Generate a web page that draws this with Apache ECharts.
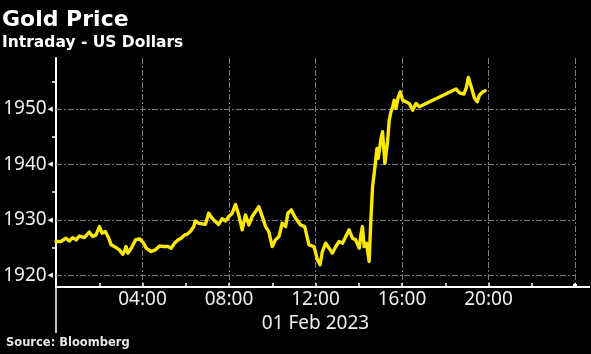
<!DOCTYPE html>
<html><head><meta charset="utf-8">
<script src="https://cdn.jsdelivr.net/npm/echarts@6/dist/echarts.min.js"></script>
<style>html,body{margin:0;padding:0;background:#000;}#c{width:591px;height:354px;}</style>
</head><body><div id="c"></div>
<script>
const titleText = 'Gold Price';
const subtitleText = 'Intraday - US Dollars';
const sourceText = 'Source: Bloomberg';
const dateLabel = '01 Feb 2023';

// hours since 00:00 on 01 Feb 2023
const hours = [0.00,0.23,0.46,0.61,0.77,0.93,1.08,1.31,1.54,1.70,1.85,2.01,2.13,2.28,2.44,2.55,2.78,2.93,3.09,3.17,3.24,3.32,3.48,3.68,3.86,4.05,4.17,4.40,4.60,4.79,4.95,5.18,5.33,5.48,5.64,5.79,5.95,
  6.06,6.21,6.37,6.44,6.60,6.91,7.06,7.22,7.37,7.52,7.68,7.84,7.99,8.15,8.30,8.45,8.61,8.76,8.92,9.07,9.23,9.38,9.54,9.69,9.84,10.00,10.15,10.31,10.46,10.62,10.72,10.88,11.08,11.31,11.50,11.70,
  11.78,11.93,12.09,12.21,12.32,12.47,12.63,12.78,12.94,13.09,13.25,13.40,13.55,13.71,13.86,14.02,14.10,14.17,14.25,14.36,14.48,14.56,14.64,14.75,14.84,14.90,15.02,15.10,15.21,15.33,15.41,15.49,15.57,15.64,15.72,15.83,15.92,16.03,16.18,16.34,16.49,16.65,16.80,16.88,
  18.50,18.66,18.86,18.97,19.07,19.20,19.35,19.48,19.58,19.74,19.85];
const prices = [1926.1,1926.1,1926.7,1926.2,1926.8,1926.4,1927.1,1926.8,1927.8,1927.0,1927.3,1928.8,1927.6,1927.9,1926.7,1925.5,1925.0,1924.6,1923.8,1924.4,1925.2,1924.0,1924.9,1926.4,1926.6,1925.8,1924.9,1924.3,1924.6,1925.3,1925.2,1925.2,1924.9,1925.8,1926.4,1926.7,1927.3,
  1927.4,1927.9,1928.8,1929.8,1929.4,1929.2,1931.2,1930.3,1929.7,1929.2,1930.2,1929.8,1930.6,1931.2,1932.8,1930.9,1928.2,1930.9,1929.1,1930.6,1931.5,1932.4,1930.6,1928.8,1927.9,1925.2,1926.4,1927.0,1929.4,1928.8,1931.2,1931.8,1930.3,1929.1,1928.8,1925.5,
  1925.5,1925.2,1922.8,1921.9,1924.3,1925.8,1924.9,1924.0,1925.2,1926.1,1925.8,1927.0,1928.2,1926.7,1926.4,1924.9,1927.3,1928.8,1925.2,1925.8,1922.5,1930.0,1936.0,1939.6,1942.9,1941.1,1944.4,1945.9,1940.2,1944.1,1948.0,1949.5,1950.4,1951.6,1950.1,1952.2,1953.1,1951.6,1951.3,1951.0,1949.8,1951.0,1950.4,1950.1,
  1953.6,1952.9,1952.7,1953.8,1955.7,1954.0,1952.0,1951.3,1952.5,1953.1,1953.3];

const yLabelValues = [1920, 1930, 1940, 1950];
const yMinorValues = [1925, 1935, 1945, 1955];
const yMin = 1917.9, yMax = 1959.2;
const xMin = 0, xMax = 24, xInterval = 4;

const pad = n => (n < 10 ? '0' : '') + n;
const data = hours.map((h, i) => [h, prices[i]]);
const gridDash = [6, 2, 2, 2];
const gridColor = '#7a7a7a';

const chart = echarts.init(document.getElementById('c'), null, {renderer: 'canvas'});
chart.setOption({
  backgroundColor: '#000',
  animation: false,
  title: [
    {text: titleText, left: 2, top: 9, padding: 0,
     textStyle: {color: '#fff', fontSize: 22, fontWeight: 'bold', fontFamily: 'DejaVu Sans'}},
    {text: subtitleText, left: 2, top: 35, padding: 0,
     textStyle: {color: '#fff', fontSize: 15.5, fontWeight: 'bold', fontFamily: 'DejaVu Sans'}},
    {text: sourceText, left: 6, top: 337, padding: 0,
     textStyle: {color: '#e6e6e6', fontSize: 11.5, fontWeight: 'bold', fontFamily: 'DejaVu Sans'}}
  ],
  grid: {left: 56, right: 16, top: 58, bottom: 67, containLabel: false, outerBoundsMode: 'none'},
  xAxis: {
    type: 'value', min: xMin, max: xMax, interval: xInterval,
    name: dateLabel, nameLocation: 'middle', nameGap: 26,
    nameTextStyle: {color: '#eee', fontSize: 19, fontFamily: 'Noto Sans'},
    axisLine: {show: true, onZero: false, lineStyle: {color: '#fff', width: 2}},
    axisTick: {show: true, inside: true, length: 4, lineStyle: {color: '#fff', width: 1.5}},
    minorTick: {show: true, splitNumber: 2, length: 4, lineStyle: {color: '#fff', width: 1.5}},
    axisLabel: {color: '#eee', fontSize: 19, fontFamily: 'Noto Sans', margin: 3,
      formatter: v => (v > xMin && v < xMax) ? pad(v) + ':00' : ''},
    splitLine: {show: true, lineStyle: {color: gridColor, width: 1, type: gridDash}}
  },
  yAxis: {
    type: 'value', min: yMin, max: yMax,
    axisLine: {show: true, lineStyle: {color: '#fff', width: 2}},
    axisTick: {show: true, customValues: yMinorValues, length: 4, lineStyle: {color: '#fff', width: 1.5}},
    axisLabel: {
      customValues: yLabelValues, margin: 3,
      formatter: v => '{v|' + v + '}{t|◀}',
      rich: {
        v: {color: '#eee', fontSize: 19, fontFamily: 'Noto Sans'},
        t: {color: '#eee', fontSize: 7, fontFamily: 'DejaVu Sans', padding: [0, 0, 0, 1]}
      }
    },
    splitLine: {show: false}
  },
  series: [{
    type: 'line', data: data, showSymbol: false, smooth: false,
    lineStyle: {color: '#fce800', width: 3.4, join: 'round', cap: 'round'},
    z: 5,
    markLine: {
      silent: true, symbol: 'none', label: {show: false},
      lineStyle: {color: gridColor, width: 1, type: gridDash},
      data: yLabelValues.map(v => ({yAxis: v})),
      z: 1
    }
  }]
});

// decorative axis extensions (placed via the chart's own coordinate conversion)
const bl = chart.convertToPixel({gridIndex: 0}, [xMin, yMin]);
const br = chart.convertToPixel({gridIndex: 0}, [xMax, yMin]);
chart.setOption({
  graphic: [
    {type: 'line', shape: {x1: bl[0], y1: bl[1], x2: bl[0], y2: bl[1] + 46}, style: {stroke: '#fff', lineWidth: 1.5}},
    {type: 'line', shape: {x1: br[0], y1: br[1], x2: br[0] + 15, y2: br[1]}, style: {stroke: '#fff', lineWidth: 2}},
    {type: 'rect', shape: {x: br[0] - 2, y: br[1] - 3, width: 4, height: 4}, style: {fill: '#fff'}}
  ]
});
</script></body></html>
